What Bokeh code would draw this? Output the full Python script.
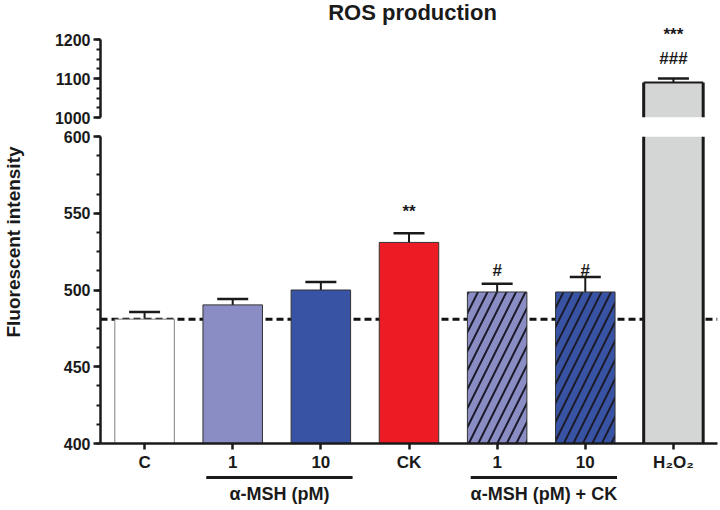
import math
import numpy as np
from bokeh.plotting import figure
from bokeh.layouts import row, column
from bokeh.models import (Range1d, FixedTicker, Whisker, TeeHead, ColumnDataSource,
                          Span, Label)
from bokeh.core.properties import value
from bokeh.embed import file_html
from bokeh.resources import INLINE

# ---------------- data ----------------
categories = ["C", "1", "10", "CK", "1", "10", "H₂O₂"]
means = [481.0, 490.3, 500.0, 531.0, 498.7, 498.7, 1089.7]
sem = [4.7, 3.9, 5.2, 6.0, 5.3, 9.7, 10.3]
fill_colors = ["#ffffff", "#8a8cc4", "#3853a4", "#ed1c24", "#8a8cc4", "#3853a4", "#d4d6d5"]
hatches = [" ", " ", " ", " ", "/", "/", " "]
stars = ["", "", "", "**", "", "", "***"]
star_y = [math.nan, math.nan, math.nan, 551.0, math.nan, math.nan, 1212.0]
hashes = ["", "", "", "", "#", "#", "###"]
hash_y = [math.nan, math.nan, math.nan, math.nan, 513.0, 513.0, 1151.0]
groups = [("α-MSH (pM)", 1, 2), ("α-MSH (pM) + CK", 4, 5)]
lower_ticks = [400, 450, 500, 550, 600]
upper_ticks = [1000, 1100, 1200]
control = means[0]

LOW_LIM = (400, 600)
TOP_LIM = (1000, 1200)

FONT = "Liberation Sans"
INK = "#1a1a1a"
LEFT = 68
W = 688
H_TOP, H_LOW, H_GRP = 127, 347, 36
H_ALL = H_TOP + H_LOW + H_GRP
BAR_W = 0.675

xs = list(range(len(categories)))
line_cols = ["#808080"] + ["#333333"] * 5 + ["#1a1a1a"]
line_w = [1, 1, 1, 1, 1, 1, 3]
uppers = [m + s for m, s in zip(means, sem)]
broken = 6          # bar that crosses the axis break


def make_src(idx):
    return ColumnDataSource(dict(
        x=[xs[i] for i in idx], top=[means[i] for i in idx],
        upper=[uppers[i] for i in idx], fill=[fill_colors[i] for i in idx],
        hatch=[hatches[i] for i in idx], line=[line_cols[i] for i in idx],
        lw=[line_w[i] for i in idx]))


def make_txt(idx, texts, ys):
    keep = [i for i in idx if texts[i]]
    return ColumnDataSource(dict(x=[xs[i] for i in keep], y=[ys[i] for i in keep],
                                 t=[texts[i] for i in keep]))


xr = Range1d(-0.5, 6.5)


def base_fig(height, y_range, **kw):
    p = figure(width=W, height=height, x_range=xr, y_range=y_range,
               output_backend="svg", toolbar_location=None, tools="",
               min_border_left=LEFT, min_border_right=3, **kw)
    p.grid.visible = False
    p.outline_line_color = None
    p.background_fill_color = "white"
    p.border_fill_color = "white"
    return p


def style_axis(ax, size="16px"):
    ax.axis_line_width = 2.5
    ax.axis_line_color = INK
    ax.major_tick_line_width = 2.5
    ax.major_tick_line_color = INK
    ax.major_tick_in = 0
    ax.minor_tick_in = 0
    ax.minor_tick_line_width = 2
    ax.minor_tick_line_color = INK
    ax.major_label_text_font = FONT
    ax.major_label_text_font_style = "bold"
    ax.major_label_text_font_size = size
    ax.major_label_text_color = INK


def broken_bar(p, lo, hi, top_edge):
    """Part of the broken bar visible between lo and hi (no edge drawn at the break)."""
    x = xs[broken]
    p.vbar(x=[x], bottom=[lo], top=[hi], width=BAR_W, fill_color=fill_colors[broken],
           line_color=None)
    xl, xr_ = x - BAR_W / 2, x + BAR_W / 2
    p.multi_line(xs=[[xl, xl], [xr_, xr_]], ys=[[lo, hi], [lo, hi]],
                 line_color=line_cols[broken], line_width=line_w[broken])
    if top_edge:
        p.multi_line(xs=[[xl, xr_]], ys=[[hi, hi]],
                     line_color=line_cols[broken], line_width=line_w[broken] - 1)


def draw_extras(p, err_idx):
    w = Whisker(source=make_src(err_idx), base="x", lower="top", upper="upper",
                dimension="height", line_width=2, line_color=INK,
                upper_head=TeeHead(size=31, line_width=2.5, line_color=INK),
                lower_head=None)
    p.add_layout(w)
    for texts, ys in ((stars, star_y), (hashes, hash_y)):
        p.text(x="x", y="y", text="t", source=make_txt(err_idx, texts, ys),
               text_font=value(FONT), text_font_style="bold", text_font_size="17px",
               text_color=INK, text_align="center", text_baseline="middle")


# ---------------- upper (broken) panel ----------------
p_top = base_fig(H_TOP, Range1d(TOP_LIM[0], 1300), x_axis_location=None,
                 min_border_top=0, min_border_bottom=10)
broken_bar(p_top, TOP_LIM[0], means[broken], True)
draw_extras(p_top, [broken])
ay = p_top.yaxis[0]
ay.ticker = FixedTicker(ticks=upper_ticks,
                        minor_ticks=list(np.arange(1000, 1200.1, 25)))
ay.bounds = TOP_LIM
style_axis(ay)
ay.major_tick_out = 7
ay.minor_tick_out = 4
ay.major_label_standoff = 3
p_top.add_layout(Label(x=3.04, y=1268, text="ROS production", text_align="center",
                       text_baseline="middle", text_font=FONT, text_font_style="bold",
                       text_font_size="22px", text_color=INK))

# ---------------- lower panel ----------------
p_low = base_fig(H_LOW, Range1d(*LOW_LIM), min_border_top=9, min_border_bottom=30)
p_low.add_layout(Span(location=control, dimension="width", line_color="#111111",
                      line_width=3, line_dash="7 4", level="underlay"))
normal = [i for i in xs if i != broken]
p_low.vbar(x="x", top="top", bottom=LOW_LIM[0], width=BAR_W, source=make_src(normal),
           fill_color="fill", line_color="line", line_width="lw",
           hatch_pattern="hatch", hatch_color="#1b1b2a", hatch_weight=2,
           hatch_scale=19)
broken_bar(p_low, LOW_LIM[0], min(means[broken], LOW_LIM[1]), False)
draw_extras(p_low, normal)
ly = p_low.yaxis[0]
ly.ticker = FixedTicker(ticks=lower_ticks,
                        minor_ticks=list(np.arange(400, 600.1, 12.5)))
style_axis(ly)
ly.major_tick_out = 7
ly.minor_tick_out = 4
ly.major_label_standoff = 3
lx = p_low.xaxis[0]
lx.ticker = FixedTicker(ticks=xs, minor_ticks=[])
lx.major_label_overrides = {i: c for i, c in enumerate(categories)}
style_axis(lx, "17px")
lx.major_tick_out = 6
lx.minor_tick_out = 0
lx.major_label_standoff = 3

# ---------------- group brackets ----------------
p_grp = base_fig(H_GRP, Range1d(0, H_GRP), x_axis_location=None, y_axis_location=None,
                 min_border_top=0, min_border_bottom=0)
gx0 = [g[1] - 0.3 for g in groups]
gx1 = [g[2] + 0.36 for g in groups]
p_grp.segment(x0=gx0, x1=gx1, y0=[H_GRP - 3] * len(groups), y1=[H_GRP - 3] * len(groups),
              line_width=3, line_color=INK)
p_grp.text(x=[(a + b) / 2 for a, b in zip(gx0, gx1)], y=[H_GRP - 19] * len(groups),
           text=[g[0] for g in groups], text_font=value(FONT), text_font_style="bold",
           text_font_size="18px", text_color=INK, text_align="center",
           text_baseline="middle")

# ---------------- y axis title ----------------
p_lab = figure(width=32, height=H_ALL, x_range=Range1d(0, 32), y_range=Range1d(0, H_ALL),
               output_backend="svg", toolbar_location=None, tools="",
               x_axis_location=None, y_axis_location=None,
               min_border_left=0, min_border_right=0, min_border_top=0,
               min_border_bottom=0)
p_lab.grid.visible = False
p_lab.outline_line_color = None
p_lab.text(x=[13], y=[H_ALL - 241.5], text=["Fluorescent intensity"], angle=math.pi / 2,
           text_font=value(FONT), text_font_style="bold", text_font_size="19px",
           text_color=INK, text_align="center", text_baseline="middle")

layout = row(p_lab, column(p_top, p_low, p_grp))
open("out.html", "w").write(file_html(layout, INLINE))
